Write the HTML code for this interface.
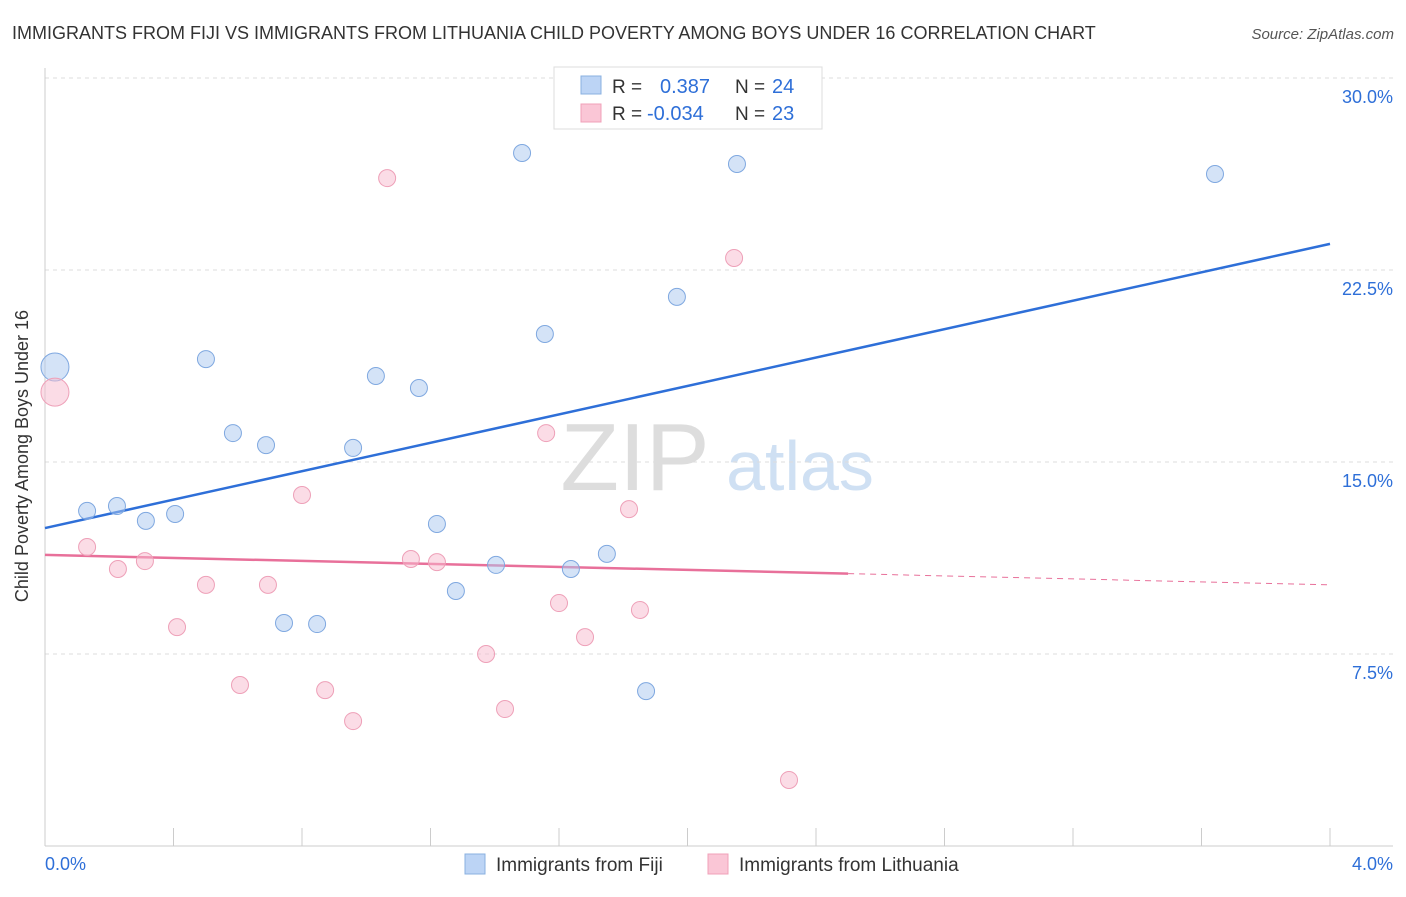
<!DOCTYPE html>
<html><head><meta charset="utf-8"><style>
body{margin:0;background:#fff;font-family:"Liberation Sans",sans-serif}
svg text{font-family:"Liberation Sans",sans-serif}
</style></head><body>
<svg width="1406" height="892" viewBox="0 0 1406 892">
<text x="12" y="39" font-size="18" fill="#333">IMMIGRANTS FROM FIJI VS IMMIGRANTS FROM LITHUANIA CHILD POVERTY AMONG BOYS UNDER 16 CORRELATION CHART</text>
<text x="1394" y="39" font-size="15" fill="#555" font-style="italic" text-anchor="end">Source: ZipAtlas.com</text>
<g><text x="635" y="490" font-size="96" fill="#ddd" text-anchor="middle" font-family="Liberation Serif">ZIP</text><text x="800" y="490" font-size="70" fill="#cfe0f3" text-anchor="middle">atlas</text></g>
<g id="grid"></g><g id="axes"></g><g id="lines"></g><g id="pts"></g>
<text x="28" y="456" font-size="18" fill="#333" text-anchor="middle" transform="rotate(-90 28 456)">Child Poverty Among Boys Under 16</text>
<g>
<rect x="554" y="67" width="268" height="62" fill="#fff" stroke="#ddd"/>
<rect x="581" y="76" width="20" height="18" fill="#bcd4f5" stroke="#8ab0e0"/>
<rect x="581" y="104" width="20" height="18" fill="#fac6d6" stroke="#f0a0b8"/>
<text x="612" y="93" font-size="19" fill="#333">R = </text><text x="660" y="93" font-size="20" fill="#2e6fd8">0.387</text>
<text x="735" y="93" font-size="19" fill="#333">N = </text><text x="772" y="93" font-size="20" fill="#2e6fd8">24</text>
<text x="612" y="120" font-size="19" fill="#333">R = </text><text x="647" y="120" font-size="20" fill="#2e6fd8">-0.034</text>
<text x="735" y="120" font-size="19" fill="#333">N = </text><text x="772" y="120" font-size="20" fill="#2e6fd8">23</text>
</g>
<g>
<rect x="465" y="854" width="20" height="20" fill="#bcd4f5" stroke="#8ab0e0"/>
<text x="496" y="871" font-size="19" fill="#333">Immigrants from Fiji</text>
<rect x="708" y="854" width="20" height="20" fill="#fac6d6" stroke="#f0a0b8"/>
<text x="739" y="871" font-size="19" fill="#333">Immigrants from Lithuania</text>
</g>
</svg>
<script>
const yTicks=[7.5,15,22.5,30];
const yTickLabels=["7.5%","15.0%","22.5%","30.0%"];
const fijiX=[0.031,0.131,0.224,0.314,0.405,0.501,0.585,0.688,0.744,0.847,0.959,1.030,1.164,1.220,1.279,1.404,1.485,1.556,1.637,1.749,1.871,1.967,2.154,3.642];
const fijiY=[18.71,13.09,13.28,12.70,12.97,19.02,16.13,15.66,8.71,8.67,15.55,18.36,17.89,12.58,9.96,10.98,27.07,20.0,10.82,11.41,6.05,21.45,26.64,26.25];
const lithX=[0.031,0.131,0.227,0.311,0.411,0.501,0.607,0.694,0.800,0.872,0.959,1.065,1.139,1.220,1.373,1.432,1.560,1.600,1.681,1.818,1.852,2.145,2.316];
const lithY=[17.73,11.68,10.82,11.13,8.55,10.20,6.29,10.20,13.71,6.09,4.88,26.09,11.21,11.09,7.5,5.35,16.13,9.49,8.16,13.16,9.22,22.97,2.58];
const fijiTrend=[12.42,23.52];
const lithTrend=[11.37,10.2];
const X=v=>45+v/4*1285, Y=v=>846-v/7.5*192;
const NS="http://www.w3.org/2000/svg";
function mk(p,t,a){const e=document.createElementNS(NS,t);for(const k in a)e.setAttribute(k,a[k]);document.getElementById(p).appendChild(e);return e;}
yTicks.forEach((t,i)=>{
 const l=mk('grid','line',{x1:45,x2:1393,y1:Y(t),y2:Y(t),stroke:'#ddd','stroke-dasharray':'4,4'});
 
 
 const tx=mk('grid','text',{x:1393,y:Y(t)+25,'font-size':18,fill:'#2e6fd8','text-anchor':'end'});tx.textContent=yTickLabels[i];
 
 
});
mk('axes','line',{x1:45,x2:45,y1:68,y2:846,stroke:'#ccc'});
mk('axes','line',{x1:45,x2:1393,y1:846,y2:846,stroke:'#ccc'});
for(let i=0;i<=10;i++){mk('axes','line',{x1:X(i*0.4),x2:X(i*0.4),y1:828,y2:846,stroke:'#ccc'});}
let t1=mk('axes','text',{x:45,y:870,'font-size':18,fill:'#2e6fd8'});t1.textContent='0.0%';


let t2=mk('axes','text',{x:1393,y:870,'font-size':18,fill:'#2e6fd8','text-anchor':'end'});t2.textContent='4.0%';


let bl=mk('lines','line',{x1:X(0),y1:Y(fijiTrend[0]),x2:X(4),y2:Y(fijiTrend[1]),stroke:'#2e6fd8','stroke-width':2.5});


const lm=v=>lithTrend[0]+(lithTrend[1]-lithTrend[0])*v/4;
let pl=mk('lines','line',{x1:X(0),y1:Y(lm(0)),x2:X(2.5),y2:Y(lm(2.5)),stroke:'#e8709a','stroke-width':2.5});


let pd=mk('lines','line',{x1:X(2.5),y1:Y(lm(2.5)),x2:X(4),y2:Y(lm(4)),stroke:'#e8709a','stroke-width':1,'stroke-dasharray':'6,5'});


fijiX.forEach((v,i)=>{const c=mk('pts','circle',{cx:X(v),cy:Y(fijiY[i]),r:i==0?14:8.5,fill:'rgba(170,200,240,0.5)',stroke:'#7fa8e0','stroke-width':1});
 
 });
lithX.forEach((v,i)=>{const c=mk('pts','circle',{cx:X(v),cy:Y(lithY[i]),r:i==0?14:8.5,fill:'rgba(248,185,205,0.5)',stroke:'#eea0b8','stroke-width':1});
 
 });
</script>
</body></html>
